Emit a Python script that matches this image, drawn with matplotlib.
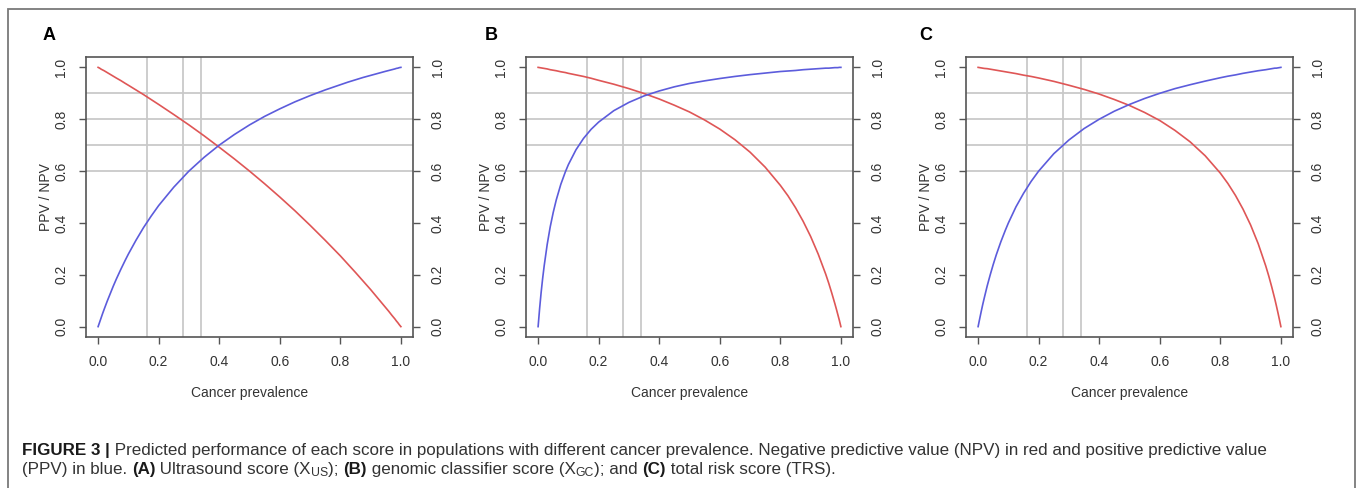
import matplotlib
matplotlib.use("Agg")
import matplotlib.pyplot as plt
from matplotlib.patches import Rectangle

# ---------------- data ----------------
prevalence = [0, 0.005, 0.01, 0.015, 0.02, 0.03, 0.04, 0.05, 0.06, 0.075, 0.09, 0.1,
              0.125, 0.15, 0.175, 0.2, 0.25, 0.3, 0.35, 0.4, 0.45, 0.5, 0.55, 0.6,
              0.65, 0.7, 0.75, 0.8, 0.825, 0.85, 0.875, 0.9, 0.925, 0.95, 0.96, 0.97,
              0.98, 0.985, 0.99, 0.995, 1.0]

ppv_A = [0, 0.017, 0.034, 0.051, 0.067, 0.098, 0.127, 0.156, 0.183, 0.221, 0.257, 0.280,
         0.333, 0.382, 0.426, 0.467, 0.538, 0.600, 0.653, 0.700, 0.741, 0.778, 0.811, 0.840,
         0.867, 0.891, 0.913, 0.933, 0.943, 0.952, 0.961, 0.969, 0.977, 0.985, 0.988, 0.991,
         0.994, 0.996, 0.997, 0.999, 1.0]
npv_A = [1.0, 0.997, 0.993, 0.990, 0.987, 0.980, 0.973, 0.966, 0.959, 0.949, 0.938, 0.931,
         0.913, 0.895, 0.876, 0.857, 0.818, 0.778, 0.736, 0.692, 0.647, 0.600, 0.551, 0.500,
         0.447, 0.391, 0.333, 0.273, 0.241, 0.209, 0.176, 0.143, 0.108, 0.073, 0.059, 0.044,
         0.030, 0.022, 0.015, 0.007, 0.0]

ppv_B = [0, 0.070, 0.132, 0.186, 0.234, 0.317, 0.385, 0.441, 0.489, 0.549, 0.597, 0.625,
         0.682, 0.726, 0.761, 0.789, 0.833, 0.865, 0.890, 0.909, 0.925, 0.938, 0.948, 0.957,
         0.965, 0.972, 0.978, 0.984, 0.986, 0.988, 0.991, 0.993, 0.995, 0.997, 0.997, 0.998,
         0.999, 0.999, 0.999, 1.0, 1.0]
npv_B = [1.0, 0.999, 0.998, 0.997, 0.996, 0.994, 0.991, 0.989, 0.987, 0.983, 0.980, 0.977,
         0.971, 0.965, 0.958, 0.950, 0.935, 0.918, 0.899, 0.878, 0.854, 0.828, 0.797, 0.762,
         0.721, 0.673, 0.615, 0.545, 0.505, 0.459, 0.407, 0.348, 0.280, 0.202, 0.167, 0.129,
         0.089, 0.068, 0.046, 0.024, 0.0]

ppv_C = [0, 0.029, 0.057, 0.084, 0.109, 0.157, 0.200, 0.240, 0.277, 0.327, 0.372, 0.400,
         0.462, 0.514, 0.560, 0.600, 0.667, 0.720, 0.764, 0.800, 0.831, 0.857, 0.880, 0.900,
         0.918, 0.933, 0.947, 0.960, 0.966, 0.971, 0.977, 0.982, 0.987, 0.991, 0.993, 0.995,
         0.997, 0.997, 0.998, 0.999, 1.0]
npv_C = [1.0, 0.999, 0.998, 0.997, 0.996, 0.995, 0.993, 0.991, 0.989, 0.986, 0.983, 0.981,
         0.976, 0.970, 0.965, 0.959, 0.946, 0.931, 0.915, 0.897, 0.876, 0.853, 0.826, 0.795,
         0.757, 0.713, 0.659, 0.592, 0.552, 0.506, 0.453, 0.392, 0.320, 0.234, 0.195, 0.152,
         0.106, 0.081, 0.055, 0.028, 0.0]

ref_prevalence = [0.16, 0.28, 0.34]
ref_values = [0.6, 0.7, 0.8, 0.9]
ticks = [0.0, 0.2, 0.4, 0.6, 0.8, 1.0]
tick_labels = ["0.0", "0.2", "0.4", "0.6", "0.8", "1.0"]
panel_letters = ["A", "B", "C"]
panels = [(ppv_A, npv_A), (ppv_B, npv_B), (ppv_C, npv_C)]

xlabel = "Cancer prevalence"
ylabel = "PPV / NPV"

# ---------------- figure ----------------
W, H = 1357, 488
plt.rcParams['font.family'] = ['Liberation Sans', 'DejaVu Sans']
fig = plt.figure(figsize=(W / 100, H / 100), dpi=100)

RED = '#df5656'
BLUE = '#5c5cdc'
GRID = '#c9c9c9'
FRAME = '#555555'
TXT = '#333333'

box_left = [86, 526, 966]
box_w = 327
box_top, box_bottom = 57, 337
letter_x = [49, 491, 926]

for i, (ppv, npv) in enumerate(panels):
    ax = fig.add_axes([box_left[i] / W, (H - box_bottom) / H, box_w / W,
                       (box_bottom - box_top) / H])
    for v in ref_prevalence:
        ax.axvline(v, color=GRID, lw=1.3, zorder=1)
    for h in ref_values:
        ax.axhline(h, color=GRID, lw=1.3, zorder=1)
    ax.plot(prevalence, npv, color=RED, lw=1.2, zorder=3)
    ax.plot(prevalence, ppv, color=BLUE, lw=1.2, zorder=3)
    ax.set_xlim(-0.04, 1.04)
    ax.set_ylim(-0.04, 1.04)
    ax.set_xticks(ticks)
    ax.set_xticklabels(tick_labels)
    ax.set_yticks(ticks)
    ax.set_yticklabels(tick_labels)
    for s in ax.spines.values():
        s.set_color(FRAME)
        s.set_linewidth(1.2)
    ax.tick_params(axis='both', direction='out', length=5.2, width=1.0,
                   color=FRAME, labelcolor=TXT, labelsize=10, pad=7.5)
    ax.tick_params(axis='y', right=True, labelright=True, labelrotation=90)
    for lab in ax.get_yticklabels():
        lab.set_va('center')
    ax.set_xlabel(xlabel, fontsize=10, color=TXT)
    ax.xaxis.set_label_coords(0.5, (box_bottom - 392.7) / (box_bottom - box_top))
    ax.xaxis.label.set_va('center')
    ax.set_ylabel(ylabel, fontsize=10, color=TXT)
    ax.yaxis.set_label_coords(-40 / box_w, 0.5)
    ax.yaxis.label.set_va('center')
    fig.text(letter_x[i] / W, 1 - 35 / H, panel_letters[i], fontsize=13,
             fontweight='bold', ha='center', va='center', color='black')

# outer frame
fig.add_artist(Rectangle((8 / W, -0.1), (1355 - 8) / W, 1.1 - 9 / H,
                         transform=fig.transFigure, fill=False,
                         edgecolor='#7a7a7a', lw=1.3))

# ---------------- caption ----------------
line1 = [("FIGURE 3 |", 'bold', 'n'),
         (" Predicted performance of each score in populations with different cancer "
          "prevalence. Negative predictive value (NPV) in red and positive predictive value",
          'normal', 'n')]
line2 = [("(PPV) in blue. ", 'normal', 'n'), ("(A)", 'bold', 'n'),
         (" Ultrasound score (X", 'normal', 'n'), ("US", 'normal', 's'),
         ("); ", 'normal', 'n'), ("(B)", 'bold', 'n'),
         (" genomic classifier score (X", 'normal', 'n'), ("GC", 'normal', 's'),
         ("); and ", 'normal', 'n'), ("(C)", 'bold', 'n'),
         (" total risk score (TRS).", 'normal', 'n')]

renderer = fig.canvas.get_renderer()


def width_px(s, weight, size):
    # measure with sentinels so leading/trailing spaces count
    t = fig.text(0, 0, "|" + s + "|", fontsize=size, fontweight=weight)
    w = t.get_window_extent(renderer).width
    t.remove()
    t2 = fig.text(0, 0, "||", fontsize=size, fontweight=weight)
    w2 = t2.get_window_extent(renderer).width
    t2.remove()
    return w - w2


def line_width(pieces, size):
    tot = 0
    for s, wgt, kind in pieces:
        sz = size * 0.72 if kind == 's' else size
        tot += width_px(s, wgt, sz)
    return tot


target = 1331 - 22
size = 10.0
size = 0.95 * size * target / line_width(line1, size)


def draw_line(pieces, x0, yc, size):
    x = x0
    for s, wgt, kind in pieces:
        sz = size * 0.72 if kind == 's' else size
        dy = -3.5 if kind == 's' else 0
        color = '#1a1a1a' if wgt == 'bold' else TXT
        fig.text(x / W, 1 - (yc - dy) / H, s, fontsize=sz, fontweight=wgt,
                 ha='left', va='center_baseline', color=color)
        x += width_px(s, wgt, sz)


draw_line(line1, 22, 449.5, size)
draw_line(line2, 22, 468, size)

fig.savefig("out.png", dpi=100)
